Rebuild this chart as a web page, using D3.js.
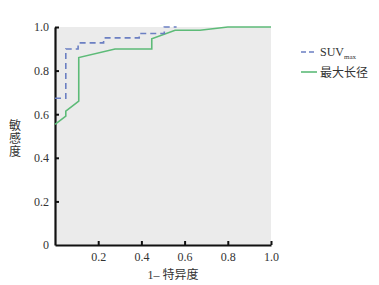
<!DOCTYPE html>
<html><head><meta charset="utf-8">
<script src="https://cdn.jsdelivr.net/npm/d3@7"></script>
<style>
body{margin:0;background:#fff;}
svg{display:block;}
</style></head>
<body><svg id="c" width="379" height="285"></svg>
<script>
const seriesNames = ["SUVmax", "最大长径"];
const suvFpr = [0, 0.05, 0.05, 0.107, 0.107, 0.225, 0.225, 0.39, 0.39, 0.506, 0.506, 0.563];
const suvTpr = [0.673, 0.673, 0.899, 0.899, 0.927, 0.927, 0.950, 0.950, 0.970, 0.970, 1.0, 1.0];
const diaFpr = [0, 0.05, 0.05, 0.11, 0.11, 0.278, 0.448, 0.448, 0.556, 0.671, 0.80, 1.0];
const diaTpr = [0.553, 0.591, 0.614, 0.66, 0.86, 0.899, 0.899, 0.946, 0.985, 0.985, 1.0, 1.0];
const tickVals = [0, 0.2, 0.4, 0.6, 0.8, 1.0];
const xTickVals = [0.2, 0.4, 0.6, 0.8, 1.0];
const yTitle = "敏感度";
const colors = ["#6b7fc2", "#5dbb78"];

const svg = d3.select("#c");
const x = d3.scaleLinear().domain([0, 1]).range([55, 271]);
const y = d3.scaleLinear().domain([0, 1]).range([245, 27]);
const serif = "'Liberation Serif','DejaVu Serif',serif";
const cjk = "'Noto Sans CJK SC',sans-serif";

svg.append("rect").attr("x", x(0)).attr("y", y(1)).attr("width", x(1) - x(0)).attr("height", y(0) - y(1)).attr("fill", "#ebebeb");

const fmt = d => d === 0 ? "0" : d3.format(".1f")(d);
const ya = svg.append("g").attr("transform", `translate(${x(0)},0)`)
  .call(d3.axisLeft(y).tickValues(tickVals).tickFormat(fmt).tickSize(-4).tickSizeOuter(0).tickPadding(6));
const xa = svg.append("g").attr("transform", `translate(0,${y(0)})`)
  .call(d3.axisBottom(x).tickValues(xTickVals).tickFormat(fmt).tickSize(-4).tickSizeOuter(0).tickPadding(7));
[ya, xa].forEach(g => {
  g.select(".domain").attr("stroke", "#111").attr("stroke-width", 2.2);
  g.selectAll(".tick line").attr("stroke", "#111").attr("stroke-width", 2);
  g.selectAll(".tick text").attr("fill", "#333").style("font-family", serif).style("font-size", "12px");
});
ya.selectAll(".tick").filter(d => d === 0).select("line").remove();

const line = d3.line().x(d => x(d[0])).y(d => y(d[1]));
const suv = suvFpr.map((v, i) => [v, suvTpr[i]]);
const dia = diaFpr.map((v, i) => [v, diaTpr[i]]);
svg.append("path").datum(dia).attr("d", line).attr("fill", "none").attr("stroke", colors[1]).attr("stroke-width", 1.6);
svg.append("path").datum(suv).attr("d", line).attr("fill", "none").attr("stroke", colors[0]).attr("stroke-width", 1.6).attr("stroke-dasharray", "6,4");

// legend
const lg = svg.append("g");
lg.append("line").attr("x1", 301).attr("x2", 317).attr("y1", 52).attr("y2", 52).attr("stroke", colors[0]).attr("stroke-width", 1.6).attr("stroke-dasharray", "5,3");
const t1 = lg.append("text").attr("x", 320).attr("y", 56).attr("fill", "#333").style("font-family", serif).style("font-size", "12px");
t1.append("tspan").text("SUV");
t1.append("tspan").attr("dy", 3).style("font-size", "7px").text("max");
lg.append("line").attr("x1", 301).attr("x2", 317).attr("y1", 72).attr("y2", 72).attr("stroke", colors[1]).attr("stroke-width", 1.6);
lg.append("text").attr("x", 320).attr("y", 76.5).attr("fill", "#333").style("font-family", cjk).style("font-size", "12px").text(seriesNames[1]);

// axis titles
svg.append("text").attr("x", 15).attr("y", 139)
  .attr("text-anchor", "middle").attr("fill", "#333")
  .style("writing-mode", "vertical-rl").style("text-orientation", "upright")
  .style("letter-spacing", "1px")
  .style("font-family", cjk).style("font-size", "12px").text(yTitle);
const xl = svg.append("text").attr("x", 173).attr("y", 279).attr("fill", "#333").attr("text-anchor", "middle");
xl.append("tspan").style("font-family", serif).style("font-size", "12px").text("1– ");
xl.append("tspan").style("font-family", cjk).style("font-size", "12px").text("特异度");
</script></body></html>
